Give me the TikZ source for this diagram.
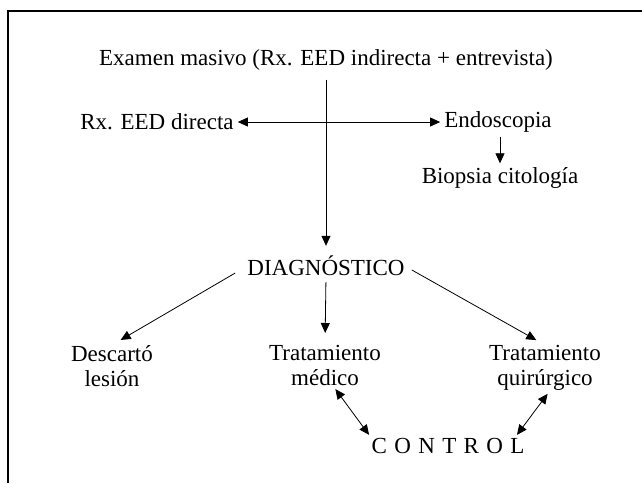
\documentclass[tikz,border=0pt]{standalone}
\usepackage{fontspec}
\setmainfont{Liberation Serif}
\usetikzlibrary{arrows.meta}
\begin{document}
\begin{tikzpicture}[x=1pt,y=-1pt,
  font=\fontsize{23}{25}\selectfont,
  lbl/.style={inner sep=0pt, align=center},
  two/.style={lbl, anchor=north},
  tip/.style={Triangle[length=10pt,width=9pt]},
  conn/.style={line width=0.8pt, -{Triangle[length=10pt,width=9pt]}},
  dconn/.style={line width=0.8pt, {Triangle[length=10pt,width=9pt]}-{Triangle[length=10pt,width=9pt]}},
  frame/.style={line width=1.6pt}]
\useasboundingbox (0,0) rectangle (642,483);
\draw[frame] (8,483) -- (8,11) -- (642,11);

\node[lbl] (exam) at (326,60) {Examen masivo (Rx. EED indirecta + entrevista)};
\node[lbl] (rx) at (157,122) {Rx. EED directa};
\node[lbl] (endo) at (498,122) {Endoscopia};
\node[lbl] (bio) at (500,178) {Biopsia citología};
\node[lbl] (diag) at (326,266) {DIAGNÓSTICO};
\node[two] (desc) at (112,345) {Descartó\\lesión};
\node[two] (med) at (325,345) {Tratamiento\\médico};
\node[two] (qui) at (545,345) {Tratamiento\\quirúrgico};
\node[lbl] (ctrl) at (448,446) {C\hspace{0.32em}O\hspace{0.32em}N\hspace{0.32em}T\hspace{0.32em}R\hspace{0.32em}O\hspace{0.32em}L};

\draw[conn, shorten <=9pt, shorten >=10pt] (exam.south) -- (diag.north);
\draw[dconn, shorten <=4pt, shorten >=4pt] (rx.east) -- (endo.west);
\draw[conn, shorten <=4pt, shorten >=4pt] ([xshift=2pt]endo.south) -- ([xshift=0pt]bio.north);
\draw[conn, shorten <=14pt, shorten >=10pt] (diag.west) -- (desc.north);
\draw[conn, shorten <=6pt, shorten >=12pt] (diag.south) -- (med.north);
\draw[conn, shorten <=8pt, shorten >=10pt] (diag.east) -- (qui.north);
\draw[dconn, shorten <=4pt, shorten >=4pt] ([xshift=8pt]med.south) -- (ctrl.north west);
\draw[dconn, shorten <=4pt, shorten >=4pt] ([xshift=5pt]qui.south) -- ([xshift=-10pt]ctrl.north east);
\end{tikzpicture}
\end{document}
